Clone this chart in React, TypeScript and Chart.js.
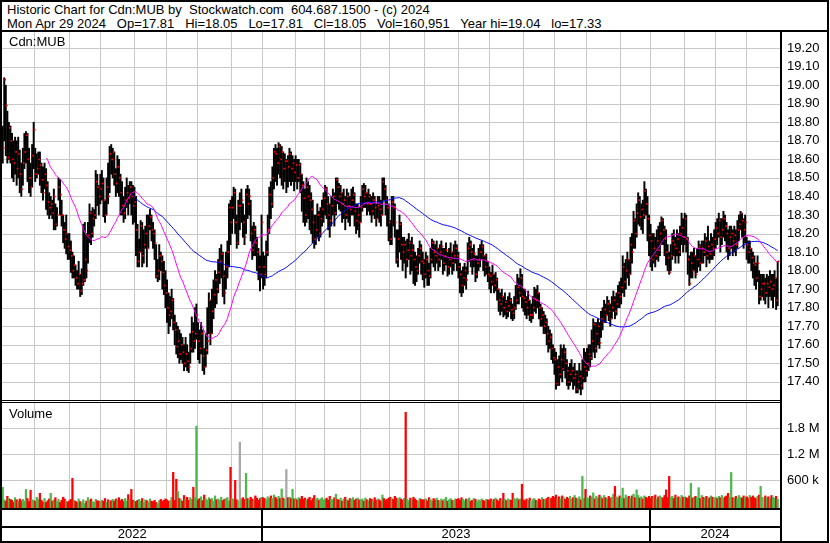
import React, { useEffect, useRef } from 'react';
import { Chart, registerables } from 'chart.js';

Chart.register(...registerables);

const FONT = "'Liberation Sans', Arial, Helvetica, sans-serif";

// ---- Daily data, May 2 2022 .. Apr 29 2024 (one row per month) ----
const closePrices = [
  18.66, 19.03, 18.89, 18.61, 18.77, 18.70, 18.60, 18.58, 18.64, 18.55, 18.63, 18.52, 18.44, 18.58, 18.64, 18.73, 18.60, 18.50, 18.45, 18.62, 18.76,
  18.52, 18.55, 18.60, 18.57, 18.49, 18.42, 18.52, 18.46, 18.37, 18.34, 18.36, 18.31, 18.40, 18.25, 18.30, 18.45, 18.41, 18.30, 18.22, 18.17, 18.20, 18.13,
  18.11, 18.08, 18.00, 18.03, 17.96, 17.93, 17.98, 17.89, 17.93, 17.95, 18.06, 18.00, 18.19, 18.31, 18.20, 18.28, 18.30, 18.48, 18.45, 18.40,
  18.44, 18.47, 18.38, 18.30, 18.45, 18.40, 18.63, 18.60, 18.64, 18.52, 18.47, 18.56, 18.50, 18.42, 18.35, 18.31, 18.38, 18.42, 18.39, 18.45, 18.40, 18.35,
  18.37, 18.22, 18.05, 18.10, 18.24, 18.08, 18.14, 18.20, 18.12, 18.24, 18.29, 18.22, 18.20, 18.15, 17.97, 18.00, 18.08, 18.05, 17.99, 17.92, 17.88,
  17.80, 17.76, 17.78, 17.84, 17.72, 17.68, 17.59, 17.62, 17.55, 17.60, 17.56, 17.50, 17.55, 17.51, 17.48, 17.58, 17.67, 17.62, 17.66, 17.76,
  17.62, 17.58, 17.66, 17.54, 17.48, 17.57, 17.62, 17.84, 17.66, 17.78, 17.87, 17.95, 17.90, 17.99, 18.05, 18.09, 17.97, 17.88, 18.02, 18.10, 18.34, 18.26,
  18.34, 18.42, 18.26, 18.15, 18.35, 18.35, 18.38, 18.26, 18.18, 18.41, 18.36, 18.40, 18.20, 18.11, 18.22, 18.15, 18.10, 18.02, 17.98, 18.26,
  18.02, 17.98, 18.10, 18.22, 18.41, 18.36, 18.50, 18.64, 18.63, 18.58, 18.67, 18.60, 18.64, 18.55, 18.59, 18.59, 18.56, 18.63, 18.55, 18.58, 18.53,
  18.57, 18.50, 18.57, 18.52, 18.46, 18.39, 18.30, 18.45, 18.40, 18.38, 18.33, 18.26, 18.17, 18.22, 18.30, 18.20, 18.28, 18.33, 18.39,
  18.44, 18.36, 18.30, 18.27, 18.35, 18.40, 18.31, 18.49, 18.45, 18.40, 18.42, 18.36, 18.38, 18.30, 18.40, 18.35, 18.33, 18.38, 18.41, 18.32, 18.27, 18.30, 18.26,
  18.34, 18.44, 18.40, 18.42, 18.36, 18.40, 18.36, 18.32, 18.38, 18.34, 18.28, 18.35, 18.33, 18.30, 18.48, 18.44, 18.38, 18.34, 18.26,
  18.17, 18.37, 18.34, 18.26, 18.06, 18.17, 18.25, 18.14, 18.10, 18.14, 18.06, 18.11, 18.15, 18.08, 18.11, 18.06, 18.02, 18.00, 18.08, 18.12, 18.05, 18.04,
  17.98, 18.06, 18.00, 17.97, 18.06, 18.15, 18.10, 18.08, 18.12, 18.06, 18.10, 18.13, 18.04, 18.08, 18.11, 18.02, 18.06, 18.10, 18.04, 18.08, 18.12, 18.08,
  18.02, 17.98, 17.92, 17.96, 18.00, 17.95, 18.12, 18.14, 18.10, 18.06, 18.09, 17.98, 18.04, 18.06, 18.10, 18.13, 18.08, 18.02, 18.05, 17.98,
  17.97, 17.94, 17.98, 17.92, 17.95, 17.90, 17.84, 17.82, 17.86, 17.80, 17.83, 17.78, 17.81, 17.84, 17.79, 17.77, 17.80, 17.84, 17.91, 17.88, 17.96, 17.86,
  17.85, 17.83, 17.80, 17.84, 17.76, 17.76, 17.80, 17.85, 17.84, 17.88, 17.80, 17.74, 17.76, 17.70, 17.72, 17.66, 17.62, 17.64, 17.58, 17.53,
  17.52, 17.39, 17.48, 17.44, 17.52, 17.47, 17.56, 17.50, 17.46, 17.40, 17.44, 17.46, 17.42, 17.44, 17.36, 17.40, 17.43, 17.38, 17.42, 17.48, 17.46,
  17.50, 17.55, 17.53, 17.62, 17.71, 17.58, 17.66, 17.70, 17.61, 17.74, 17.72, 17.79, 17.76, 17.82, 17.78, 17.74, 17.80, 17.84, 17.78, 17.82, 17.88, 17.86,
  17.91, 18.02, 17.94, 18.00, 18.06, 17.98, 18.14, 18.10, 18.27, 18.20, 18.31, 18.38, 18.29, 18.33, 18.30, 18.43, 18.36, 18.28, 18.19,
  18.16, 18.06, 18.12, 18.08, 18.16, 18.11, 18.20, 18.27, 18.22, 18.17, 18.10, 18.07, 17.99, 18.08, 18.16, 18.14, 18.12, 18.17, 18.10, 18.20, 18.23, 18.18,
  18.28, 18.17, 18.06, 17.93, 18.04, 18.00, 18.08, 17.98, 18.06, 18.13, 18.04, 18.12, 18.10, 18.16, 18.08, 18.13, 18.09, 18.14, 18.12, 18.17,
  18.23, 18.20, 18.27, 18.18, 18.22, 18.28, 18.24, 18.20, 18.12, 18.18, 18.20, 18.16, 18.19, 18.14, 18.22, 18.25, 18.31, 18.27, 18.22, 18.26,
  18.14, 18.10, 18.12, 18.07, 18.04, 18.03, 17.96, 18.04, 17.86, 17.90, 17.93, 17.93, 17.88, 17.93, 17.91, 17.94, 17.90, 17.92, 17.96, 17.84, 18.05,
];

const highPrices = [
  18.78, 19.04, 19.00, 18.86, 18.80, 18.78, 18.74, 18.70, 18.72, 18.70, 18.72, 18.65, 18.58, 18.66, 18.74, 18.75, 18.74, 18.66, 18.58, 18.68, 18.80,
  18.66, 18.63, 18.64, 18.64, 18.58, 18.56, 18.58, 18.55, 18.48, 18.42, 18.40, 18.38, 18.44, 18.36, 18.34, 18.50, 18.49, 18.38, 18.30, 18.26, 18.30, 18.20,
  18.20, 18.16, 18.10, 18.08, 18.03, 18.00, 18.05, 17.98, 18.01, 18.25, 18.26, 18.20, 18.26, 18.36, 18.32, 18.34, 18.33, 18.54, 18.52, 18.46,
  18.52, 18.54, 18.50, 18.38, 18.50, 18.58, 18.67, 18.68, 18.66, 18.64, 18.55, 18.62, 18.60, 18.52, 18.48, 18.40, 18.45, 18.50, 18.46, 18.48, 18.48, 18.46,
  18.45, 18.40, 18.25, 18.17, 18.27, 18.26, 18.22, 18.24, 18.30, 18.30, 18.33, 18.30, 18.26, 18.22, 18.14, 18.06, 18.14, 18.10, 18.08, 18.05, 18.00,
  17.95, 17.88, 17.86, 17.90, 17.85, 17.76, 17.72, 17.70, 17.68, 17.66, 17.64, 17.60, 17.64, 17.60, 17.56, 17.66, 17.75, 17.72, 17.80, 17.82,
  17.72, 17.68, 17.72, 17.68, 17.58, 17.66, 17.80, 17.88, 17.84, 17.90, 17.95, 18.00, 17.98, 18.06, 18.12, 18.14, 18.10, 18.00, 18.10, 18.16, 18.36, 18.38,
  18.40, 18.45, 18.44, 18.30, 18.38, 18.42, 18.44, 18.36, 18.30, 18.44, 18.46, 18.44, 18.38, 18.24, 18.26, 18.24, 18.18, 18.12, 18.08, 18.30,
  18.10, 18.08, 18.16, 18.30, 18.45, 18.48, 18.56, 18.66, 18.68, 18.66, 18.69, 18.68, 18.67, 18.64, 18.63, 18.60, 18.62, 18.66, 18.64, 18.62, 18.60,
  18.62, 18.60, 18.60, 18.58, 18.52, 18.48, 18.44, 18.50, 18.48, 18.46, 18.42, 18.38, 18.30, 18.30, 18.36, 18.32, 18.34, 18.38, 18.42,
  18.46, 18.45, 18.40, 18.36, 18.40, 18.44, 18.42, 18.50, 18.50, 18.47, 18.46, 18.42, 18.44, 18.40, 18.44, 18.42, 18.40, 18.44, 18.45, 18.42, 18.36, 18.36, 18.34,
  18.40, 18.46, 18.47, 18.46, 18.42, 18.44, 18.41, 18.40, 18.42, 18.40, 18.36, 18.40, 18.40, 18.38, 18.50, 18.50, 18.46, 18.40, 18.36,
  18.27, 18.40, 18.40, 18.36, 18.22, 18.22, 18.30, 18.26, 18.18, 18.18, 18.16, 18.17, 18.20, 18.16, 18.18, 18.14, 18.10, 18.08, 18.12, 18.16, 18.14, 18.10,
  18.06, 18.10, 18.08, 18.04, 18.12, 18.17, 18.16, 18.14, 18.16, 18.12, 18.14, 18.16, 18.12, 18.12, 18.15, 18.10, 18.12, 18.15, 18.10, 18.14, 18.16, 18.14,
  18.10, 18.04, 18.00, 18.02, 18.04, 18.02, 18.15, 18.18, 18.16, 18.12, 18.14, 18.08, 18.08, 18.12, 18.14, 18.16, 18.14, 18.08, 18.09, 18.05,
  18.02, 17.99, 18.03, 17.98, 17.99, 17.96, 17.90, 17.88, 17.90, 17.86, 17.88, 17.84, 17.86, 17.88, 17.85, 17.82, 17.86, 17.92, 17.98, 17.96, 18.01, 17.98,
  17.90, 17.90, 17.86, 17.89, 17.84, 17.82, 17.86, 17.91, 17.90, 17.92, 17.88, 17.82, 17.80, 17.78, 17.76, 17.74, 17.70, 17.68, 17.66, 17.60,
  17.58, 17.56, 17.52, 17.54, 17.60, 17.58, 17.60, 17.58, 17.52, 17.48, 17.50, 17.52, 17.48, 17.50, 17.46, 17.46, 17.50, 17.46, 17.52, 17.58, 17.56,
  17.58, 17.60, 17.60, 17.68, 17.74, 17.72, 17.72, 17.74, 17.72, 17.78, 17.80, 17.84, 17.82, 17.86, 17.84, 17.82, 17.86, 17.89, 17.86, 17.88, 17.92, 17.94,
  17.96, 18.08, 18.04, 18.06, 18.10, 18.06, 18.18, 18.20, 18.32, 18.28, 18.36, 18.42, 18.40, 18.36, 18.38, 18.48, 18.44, 18.40, 18.30,
  18.25, 18.20, 18.20, 18.18, 18.22, 18.24, 18.26, 18.29, 18.28, 18.24, 18.22, 18.14, 18.10, 18.14, 18.20, 18.22, 18.18, 18.22, 18.20, 18.24, 18.31, 18.28,
  18.31, 18.30, 18.18, 18.08, 18.10, 18.10, 18.12, 18.08, 18.12, 18.16, 18.14, 18.16, 18.16, 18.20, 18.18, 18.24, 18.16, 18.20, 18.18, 18.22,
  18.26, 18.28, 18.31, 18.28, 18.28, 18.32, 18.30, 18.26, 18.22, 18.24, 18.24, 18.22, 18.24, 18.22, 18.27, 18.30, 18.32, 18.31, 18.28, 18.30,
  18.18, 18.16, 18.16, 18.12, 18.10, 18.08, 18.04, 18.08, 18.00, 17.98, 17.98, 17.98, 17.96, 17.98, 17.97, 18.00, 17.98, 17.98, 18.00, 17.96, 18.05,
];

const lowPrices = [
  18.58, 18.70, 18.62, 18.58, 18.60, 18.58, 18.50, 18.48, 18.52, 18.46, 18.50, 18.42, 18.40, 18.46, 18.55, 18.58, 18.48, 18.42, 18.40, 18.45, 18.55,
  18.48, 18.50, 18.52, 18.46, 18.42, 18.38, 18.44, 18.33, 18.30, 18.28, 18.30, 18.28, 18.22, 18.22, 18.24, 18.38, 18.30, 18.24, 18.15, 18.12, 18.09, 18.06,
  18.06, 17.99, 17.96, 17.96, 17.92, 17.90, 17.90, 17.86, 17.87, 17.92, 17.94, 17.96, 18.04, 18.15, 18.14, 18.18, 18.24, 18.28, 18.35, 18.30,
  18.36, 18.38, 18.29, 18.26, 18.30, 18.36, 18.42, 18.52, 18.50, 18.46, 18.40, 18.42, 18.40, 18.30, 18.30, 18.26, 18.28, 18.34, 18.30, 18.36, 18.30, 18.25,
  18.26, 18.08, 18.02, 18.02, 18.10, 18.02, 18.04, 18.12, 18.02, 18.12, 18.22, 18.16, 18.12, 18.06, 17.96, 17.94, 17.95, 18.00, 17.90, 17.87, 17.80,
  17.72, 17.66, 17.70, 17.74, 17.68, 17.60, 17.55, 17.53, 17.50, 17.52, 17.50, 17.46, 17.48, 17.46, 17.45, 17.50, 17.56, 17.56, 17.58, 17.63,
  17.52, 17.50, 17.55, 17.46, 17.44, 17.48, 17.55, 17.66, 17.60, 17.66, 17.74, 17.80, 17.82, 17.88, 17.93, 17.96, 17.86, 17.82, 17.90, 17.96, 18.02, 18.14,
  18.20, 18.28, 18.20, 18.12, 18.14, 18.22, 18.26, 18.18, 18.14, 18.20, 18.28, 18.30, 18.16, 18.06, 18.08, 18.08, 18.00, 17.95, 17.89, 17.96,
  17.90, 17.92, 17.96, 18.08, 18.20, 18.28, 18.34, 18.44, 18.48, 18.46, 18.52, 18.50, 18.46, 18.44, 18.48, 18.42, 18.45, 18.48, 18.46, 18.48, 18.43,
  18.48, 18.44, 18.48, 18.42, 18.32, 18.26, 18.24, 18.26, 18.28, 18.22, 18.20, 18.15, 18.12, 18.14, 18.18, 18.16, 18.18, 18.24, 18.26,
  18.30, 18.28, 18.22, 18.18, 18.24, 18.30, 18.24, 18.30, 18.36, 18.33, 18.32, 18.26, 18.28, 18.22, 18.28, 18.26, 18.24, 18.30, 18.30, 18.24, 18.20, 18.22, 18.18,
  18.26, 18.32, 18.34, 18.34, 18.30, 18.32, 18.30, 18.26, 18.30, 18.28, 18.24, 18.28, 18.26, 18.24, 18.30, 18.38, 18.30, 18.24, 18.16,
  18.14, 18.14, 18.24, 18.18, 18.04, 18.02, 18.10, 18.06, 18.00, 18.04, 17.96, 18.02, 18.06, 17.98, 18.00, 17.93, 17.92, 17.94, 17.98, 18.04, 17.98, 17.95,
  17.91, 17.96, 17.92, 17.92, 17.96, 18.04, 18.02, 18.00, 18.04, 18.00, 18.02, 18.06, 17.98, 18.00, 18.03, 17.97, 17.98, 18.02, 17.98, 18.00, 18.04, 18.00,
  17.96, 17.88, 17.86, 17.88, 17.92, 17.90, 17.98, 18.05, 18.02, 17.98, 18.02, 17.94, 17.96, 18.00, 18.02, 18.06, 18.00, 17.97, 17.98, 17.94,
  17.90, 17.88, 17.92, 17.88, 17.89, 17.84, 17.78, 17.76, 17.78, 17.75, 17.76, 17.74, 17.75, 17.78, 17.74, 17.73, 17.74, 17.79, 17.82, 17.82, 17.86, 17.80,
  17.78, 17.76, 17.74, 17.76, 17.73, 17.72, 17.74, 17.78, 17.77, 17.80, 17.74, 17.70, 17.70, 17.66, 17.66, 17.60, 17.56, 17.58, 17.52, 17.50,
  17.44, 17.36, 17.38, 17.38, 17.42, 17.40, 17.46, 17.42, 17.38, 17.36, 17.38, 17.40, 17.36, 17.38, 17.34, 17.34, 17.36, 17.33, 17.36, 17.40, 17.40,
  17.43, 17.46, 17.48, 17.52, 17.56, 17.53, 17.56, 17.60, 17.58, 17.64, 17.68, 17.72, 17.72, 17.76, 17.73, 17.70, 17.74, 17.78, 17.74, 17.76, 17.80, 17.80,
  17.82, 17.88, 17.86, 17.90, 17.96, 17.92, 17.98, 18.04, 18.12, 18.12, 18.18, 18.25, 18.24, 18.22, 18.20, 18.28, 18.30, 18.16, 18.08,
  18.02, 18.00, 18.04, 18.02, 18.06, 18.05, 18.08, 18.14, 18.14, 18.08, 18.03, 18.00, 17.98, 18.00, 18.06, 18.08, 18.04, 18.08, 18.04, 18.08, 18.14, 18.10,
  18.14, 18.10, 17.98, 17.92, 17.96, 17.96, 18.00, 17.96, 17.99, 18.02, 18.00, 18.04, 18.04, 18.08, 18.02, 18.06, 18.04, 18.06, 18.06, 18.08,
  18.12, 18.14, 18.18, 18.10, 18.14, 18.18, 18.16, 18.10, 18.06, 18.08, 18.12, 18.08, 18.10, 18.08, 18.12, 18.16, 18.22, 18.18, 18.12, 18.15,
  18.06, 18.04, 18.04, 18.00, 17.96, 17.92, 17.90, 17.94, 17.82, 17.84, 17.86, 17.84, 17.82, 17.86, 17.80, 17.86, 17.84, 17.80, 17.86, 17.79, 17.81,
];

// daily volume, thousands of shares
const volumeK = [
  440, 150, 120, 230, 180, 160, 140, 90, 200, 150, 110, 170, 130, 160, 120, 390, 180, 110, 370, 150, 140,
  120, 210, 160, 300, 140, 100, 180, 90, 130, 170, 300, 120, 150, 200, 110, 160, 90, 140, 210, 170, 120, 100,
  130, 160, 645, 140, 120, 90, 170, 110, 80, 150, 60, 120, 200, 140, 170, 110, 90, 160, 130, 120,
  100, 140, 120, 180, 90, 150, 110, 130, 160, 120, 170, 140, 200, 130, 160, 110, 180, 120, 270, 150, 390, 140,
  120, 110, 140, 160, 120, 180, 90, 150, 130, 100, 170, 120, 110, 140, 90, 60, 130, 160, 120, 140, 170,
  150, 120, 130, 210, 785, 140, 625, 340, 180, 150, 120, 250, 170, 210, 140, 200, 160, 440, 200, 1850,
  150, 180, 220, 130, 260, 170, 140, 200, 160, 180, 120, 240, 150, 170, 140, 210, 130, 160, 180, 200, 120, 900,
  180, 160, 600, 150, 130, 1480, 170, 200, 160, 760, 180, 150, 210, 170, 120, 240, 190, 140, 180, 210,
  200, 180, 160, 220, 190, 240, 180, 260, 210, 170, 230, 180, 400, 190, 160, 850, 200, 210, 180, 390, 170,
  180, 150, 200, 170, 230, 160, 190, 140, 170, 210, 130, 180, 250, 160, 190, 140, 170, 200, 150,
  160, 190, 140, 230, 170, 150, 200, 280, 160, 140, 190, 120, 170, 210, 150, 130, 180, 160, 200, 140, 170, 190, 150,
  140, 170, 120, 190, 150, 130, 180, 160, 110, 200, 140, 170, 150, 120, 260, 180, 140, 160, 190,
  210, 180, 160, 230, 190, 150, 200, 170, 140, 180, 2170, 160, 130, 190, 150, 210, 170, 140, 120, 180, 160, 150,
  150, 170, 130, 200, 160, 120, 180, 150, 190, 140, 110, 170, 130, 160, 210, 120, 150, 180, 140, 130, 170, 160,
  180, 140, 200, 160, 130, 170, 150, 190, 120, 140, 180, 160, 110, 150, 130, 170, 140, 120, 160, 150,
  140, 170, 130, 160, 190, 150, 120, 180, 140, 300, 160, 130, 170, 150, 140, 300, 180, 160, 190, 150, 170, 510,
  150, 130, 170, 140, 190, 120, 160, 180, 140, 130, 170, 150, 200, 160, 140, 180, 210, 170, 190, 230,
  200, 260, 180, 220, 170, 240, 190, 160, 210, 180, 230, 170, 200, 250, 190, 170, 220, 150, 690, 180, 390,
  200, 180, 240, 210, 310, 170, 230, 190, 260, 220, 180, 250, 200, 170, 230, 190, 210, 280, 460, 220, 190, 240,
  200, 420, 180, 260, 210, 230, 190, 240, 280, 200, 380, 250, 190, 220, 170, 240, 210, 180, 230,
  190, 230, 200, 260, 170, 220, 240, 210, 190, 250, 380, 200, 690, 210, 230, 180, 260, 200, 220, 190, 250, 210,
  220, 200, 180, 240, 530, 190, 210, 230, 200, 430, 180, 250, 210, 190, 230, 170, 200, 240, 210, 190,
  210, 180, 230, 200, 250, 190, 220, 240, 300, 210, 780, 200, 190, 230, 180, 250, 210, 190, 240, 200,
  220, 190, 250, 210, 240, 200, 180, 230, 260, 460, 210, 190, 240, 200, 220, 180, 250, 210, 190, 230, 161,
];

// index of first trading day of each month (Jun 2022 .. Apr 2024)
const monthStarts = [21, 43, 63, 85, 106, 126, 148, 168, 189, 208, 231, 250, 272, 294, 314, 336, 356, 377, 399, 418, 440, 460, 480];
const yearStarts = [0, 168, 418];
const yearLabels = ['2022', '2023', '2024'];
const priceTicks = [17.4, 17.5, 17.6, 17.7, 17.8, 17.9, 18.0, 18.1, 18.2, 18.3, 18.4, 18.5, 18.6, 18.7, 18.8, 18.9, 19.0, 19.1, 19.2];
const volumeTicks = [600, 1200, 1800];
const volumeTickLabels = ['600 k', '1.2 M', '1.8 M'];

const MA_FAST = 29;
const MA_SLOW = 85;

const X_MIN = -0.45;
const X_MAX = 501.49;
const PRICE_MIN = 17.302;
const PRICE_MAX = 19.287;
const VOL_MIN = -39;
const VOL_MAX = 2407;

const GRID = '#c8c8c8';
const UP = '#4cb84c';
const DOWN = '#ff0000';
const FLAT = '#a8a8a8';

function sma(values: number[], n: number): (number | null)[] {
  return values.map((_, i) => {
    if (i < n - 1) return null;
    let s = 0;
    for (let k = i - n + 1; k <= i; k++) s += values[k];
    return s / n;
  });
}

const noPad = (s: any) => {
  s.paddingTop = 0;
  s.paddingBottom = 0;
  s.paddingLeft = 0;
  s.paddingRight = 0;
};

const makeX = () => ({
  type: 'linear',
  min: X_MIN,
  max: X_MAX,
  offset: false,
  grid: { display: false, drawTicks: false, offset: false },
  border: { display: false },
  ticks: { display: false },
  afterFit: (s: any) => { s.height = 0; noPad(s); },
});

// grid lines at month starts and at the value ticks, drawn beneath the data
const panelGrid = (yTicks: number[]) => ({
  id: 'panelGrid',
  beforeDatasetsDraw(chart: any) {
    const { ctx, chartArea: a, scales } = chart;
    ctx.save();
    ctx.strokeStyle = GRID;
    ctx.lineWidth = 1;
    ctx.beginPath();
    monthStarts.forEach((m) => {
      const x = Math.round(scales.x.getPixelForValue(m - 0.5)) + 0.5;
      ctx.moveTo(x, a.top);
      ctx.lineTo(x, a.bottom);
    });
    yTicks.forEach((v) => {
      const y = Math.round(scales.y.getPixelForValue(v)) + 0.5;
      ctx.moveTo(a.left, y);
      ctx.lineTo(a.right, y);
    });
    ctx.stroke();
    ctx.restore();
  },
});

const yearSeparators = {
  id: 'yearSeparators',
  afterDraw(chart: any) {
    const { ctx, chartArea } = chart;
    const xs = chart.scales.x;
    ctx.save();
    ctx.fillStyle = '#000';
    yearStarts.slice(1).forEach((s) => {
      const px = Math.round(xs.getPixelForValue(s - 0.5));
      ctx.fillRect(px - 1, chartArea.bottom, 2, chart.height - chartArea.bottom);
    });
    ctx.restore();
  },
};

export default function App() {
  const priceRef = useRef<HTMLCanvasElement>(null);
  const volRef = useRef<HTMLCanvasElement>(null);

  useEffect(() => {
    document.body.style.margin = '0';
    const maFast = sma(closePrices, MA_FAST);
    const maSlow = sma(closePrices, MA_SLOW);

    const price = new Chart(priceRef.current as HTMLCanvasElement, {
      type: 'bar',
      data: {
        datasets: [
          {
            type: 'line',
            data: maFast.map((v, i) => ({ x: i, y: v })),
            borderColor: '#ff00ff',
            borderWidth: 1,
            pointRadius: 0,
            tension: 0,
            fill: false,
            order: 0,
          },
          {
            type: 'line',
            data: maSlow.map((v, i) => ({ x: i, y: v })),
            borderColor: '#0000ff',
            borderWidth: 1,
            pointRadius: 0,
            tension: 0,
            fill: false,
            order: 0,
          },
          {
            type: 'line',
            data: closePrices.map((c, i) => ({ x: i + 0.6, y: c })),
            showLine: false,
            pointStyle: 'rect',
            pointRadius: 1.2,
            pointBackgroundColor: '#ff0000',
            pointBorderWidth: 0,
            fill: false,
            order: 1,
          },
          {
            type: 'bar',
            data: highPrices.map((h, i) => ({ x: i, y: [lowPrices[i], h] })),
            backgroundColor: '#000000',
            borderWidth: 0,
            barThickness: 1.3,
            order: 2,
          },
        ],
      } as any,
      options: {
        animation: false,
        responsive: false,
        devicePixelRatio: 1,
        events: [],
        layout: { autoPadding: false, padding: { left: 2, right: 0, top: 0, bottom: 0 } },
        plugins: { legend: { display: false }, tooltip: { enabled: false } },
        scales: {
          x: makeX(),
          y: {
            type: 'linear',
            position: 'right',
            min: PRICE_MIN,
            max: PRICE_MAX,
            beginAtZero: false,
            grid: { display: false, drawTicks: false },
            border: { display: false },
            ticks: {
              color: '#000',
              font: { family: FONT, size: 13 },
              padding: 7,
              callback: (v: any) => Number(v).toFixed(2),
            },
            afterBuildTicks: (s: any) => { s.ticks = priceTicks.map((v) => ({ value: v })); },
            afterFit: (s: any) => { s.width = 50; noPad(s); },
          },
        },
      } as any,
      plugins: [panelGrid(priceTicks)],
    });

    const volColors = closePrices.map((c, i) =>
      i === 0 || c > closePrices[i - 1] ? UP : c < closePrices[i - 1] ? DOWN : FLAT
    );

    const yearCenters = yearStarts.map((s, k) => {
      const a = k === 0 ? X_MIN : s - 0.5;
      const b = k < yearStarts.length - 1 ? yearStarts[k + 1] - 0.5 : X_MAX;
      return (a + b) / 2;
    });

    const vol = new Chart(volRef.current as HTMLCanvasElement, {
      type: 'bar',
      data: {
        datasets: [
          {
            type: 'bar',
            data: volumeK.map((v, i) => ({ x: i, y: v })),
            backgroundColor: volColors,
            borderWidth: 0,
            barThickness: 1.6,
            base: VOL_MIN,
          },
        ],
      } as any,
      options: {
        animation: false,
        responsive: false,
        devicePixelRatio: 1,
        events: [],
        layout: { autoPadding: false, padding: { left: 2, right: 0, top: 0, bottom: 0 } },
        plugins: { legend: { display: false }, tooltip: { enabled: false } },
        scales: {
          x: makeX(),
          x2: {
            type: 'linear',
            position: 'bottom',
            min: X_MIN,
            max: X_MAX,
            offset: false,
            grid: { display: false, drawTicks: false },
            border: { display: false },
            ticks: {
              color: '#000',
              font: { family: FONT, size: 13 },
              padding: 19,
              autoSkip: false,
              maxRotation: 0,
              callback: (_v: any, idx: number) => yearLabels[idx],
            },
            afterBuildTicks: (s: any) => { s.ticks = yearCenters.map((v) => ({ value: v })); },
            afterFit: (s: any) => { s.height = 35; noPad(s); },
          },
          y: {
            type: 'linear',
            position: 'right',
            min: VOL_MIN,
            max: VOL_MAX,
            beginAtZero: false,
            grid: { display: false, drawTicks: false },
            border: { display: false },
            ticks: {
              color: '#000',
              font: { family: FONT, size: 13 },
              padding: 7,
              callback: (_v: any, idx: number) => volumeTickLabels[idx],
            },
            afterBuildTicks: (s: any) => { s.ticks = volumeTicks.map((v) => ({ value: v })); },
            afterFit: (s: any) => { s.width = 50; noPad(s); },
          },
        },
      } as any,
      plugins: [panelGrid(volumeTicks), yearSeparators],
    });

    return () => {
      price.destroy();
      vol.destroy();
    };
  }, []);

  const line = (left: number, top: number, width: number, height: number): React.CSSProperties => ({
    position: 'absolute', left, top, width, height, background: '#000',
  });
  const text: React.CSSProperties = {
    position: 'absolute', fontFamily: FONT, fontSize: 13, color: '#000', whiteSpace: 'pre',
  };

  return (
    <div style={{ position: 'fixed', left: 0, top: 0, width: 830, height: 543, background: '#fff', overflow: 'hidden' }}>
      <canvas ref={priceRef} width={830} height={368} style={{ position: 'absolute', left: 0, top: 32 }} />
      <canvas ref={volRef} width={830} height={141} style={{ position: 'absolute', left: 0, top: 402 }} />

      <div style={{ ...text, left: 7, top: 3, lineHeight: '14px' }}>
        {'Historic Chart for Cdn:MUB by  Stockwatch.com  604.687.1500 - (c) 2024\nMon Apr 29 2024   Op=17.81   Hi=18.05   Lo=17.81   Cl=18.05   Vol=160,951   Year hi=19.04   lo=17.33'}
      </div>
      <div style={{ ...text, left: 9, top: 34, lineHeight: '15px' }}>Cdn:MUB</div>
      <div style={{ ...text, left: 9, top: 406, lineHeight: '15px' }}>Volume</div>

      {/* frame */}
      <div style={line(0, 0, 829, 2)} />
      <div style={line(0, 0, 2, 543)} />
      <div style={line(827, 0, 2, 543)} />
      <div style={line(0, 541, 829, 2)} />
      <div style={line(0, 30, 829, 2)} />
      <div style={line(780, 30, 2, 513)} />
      <div style={line(0, 400, 781, 1)} />
      <div style={line(0, 402, 781, 1)} />
      <div style={line(0, 508, 781, 2)} />
      <div style={line(0, 526, 781, 2)} />
    </div>
  );
}
